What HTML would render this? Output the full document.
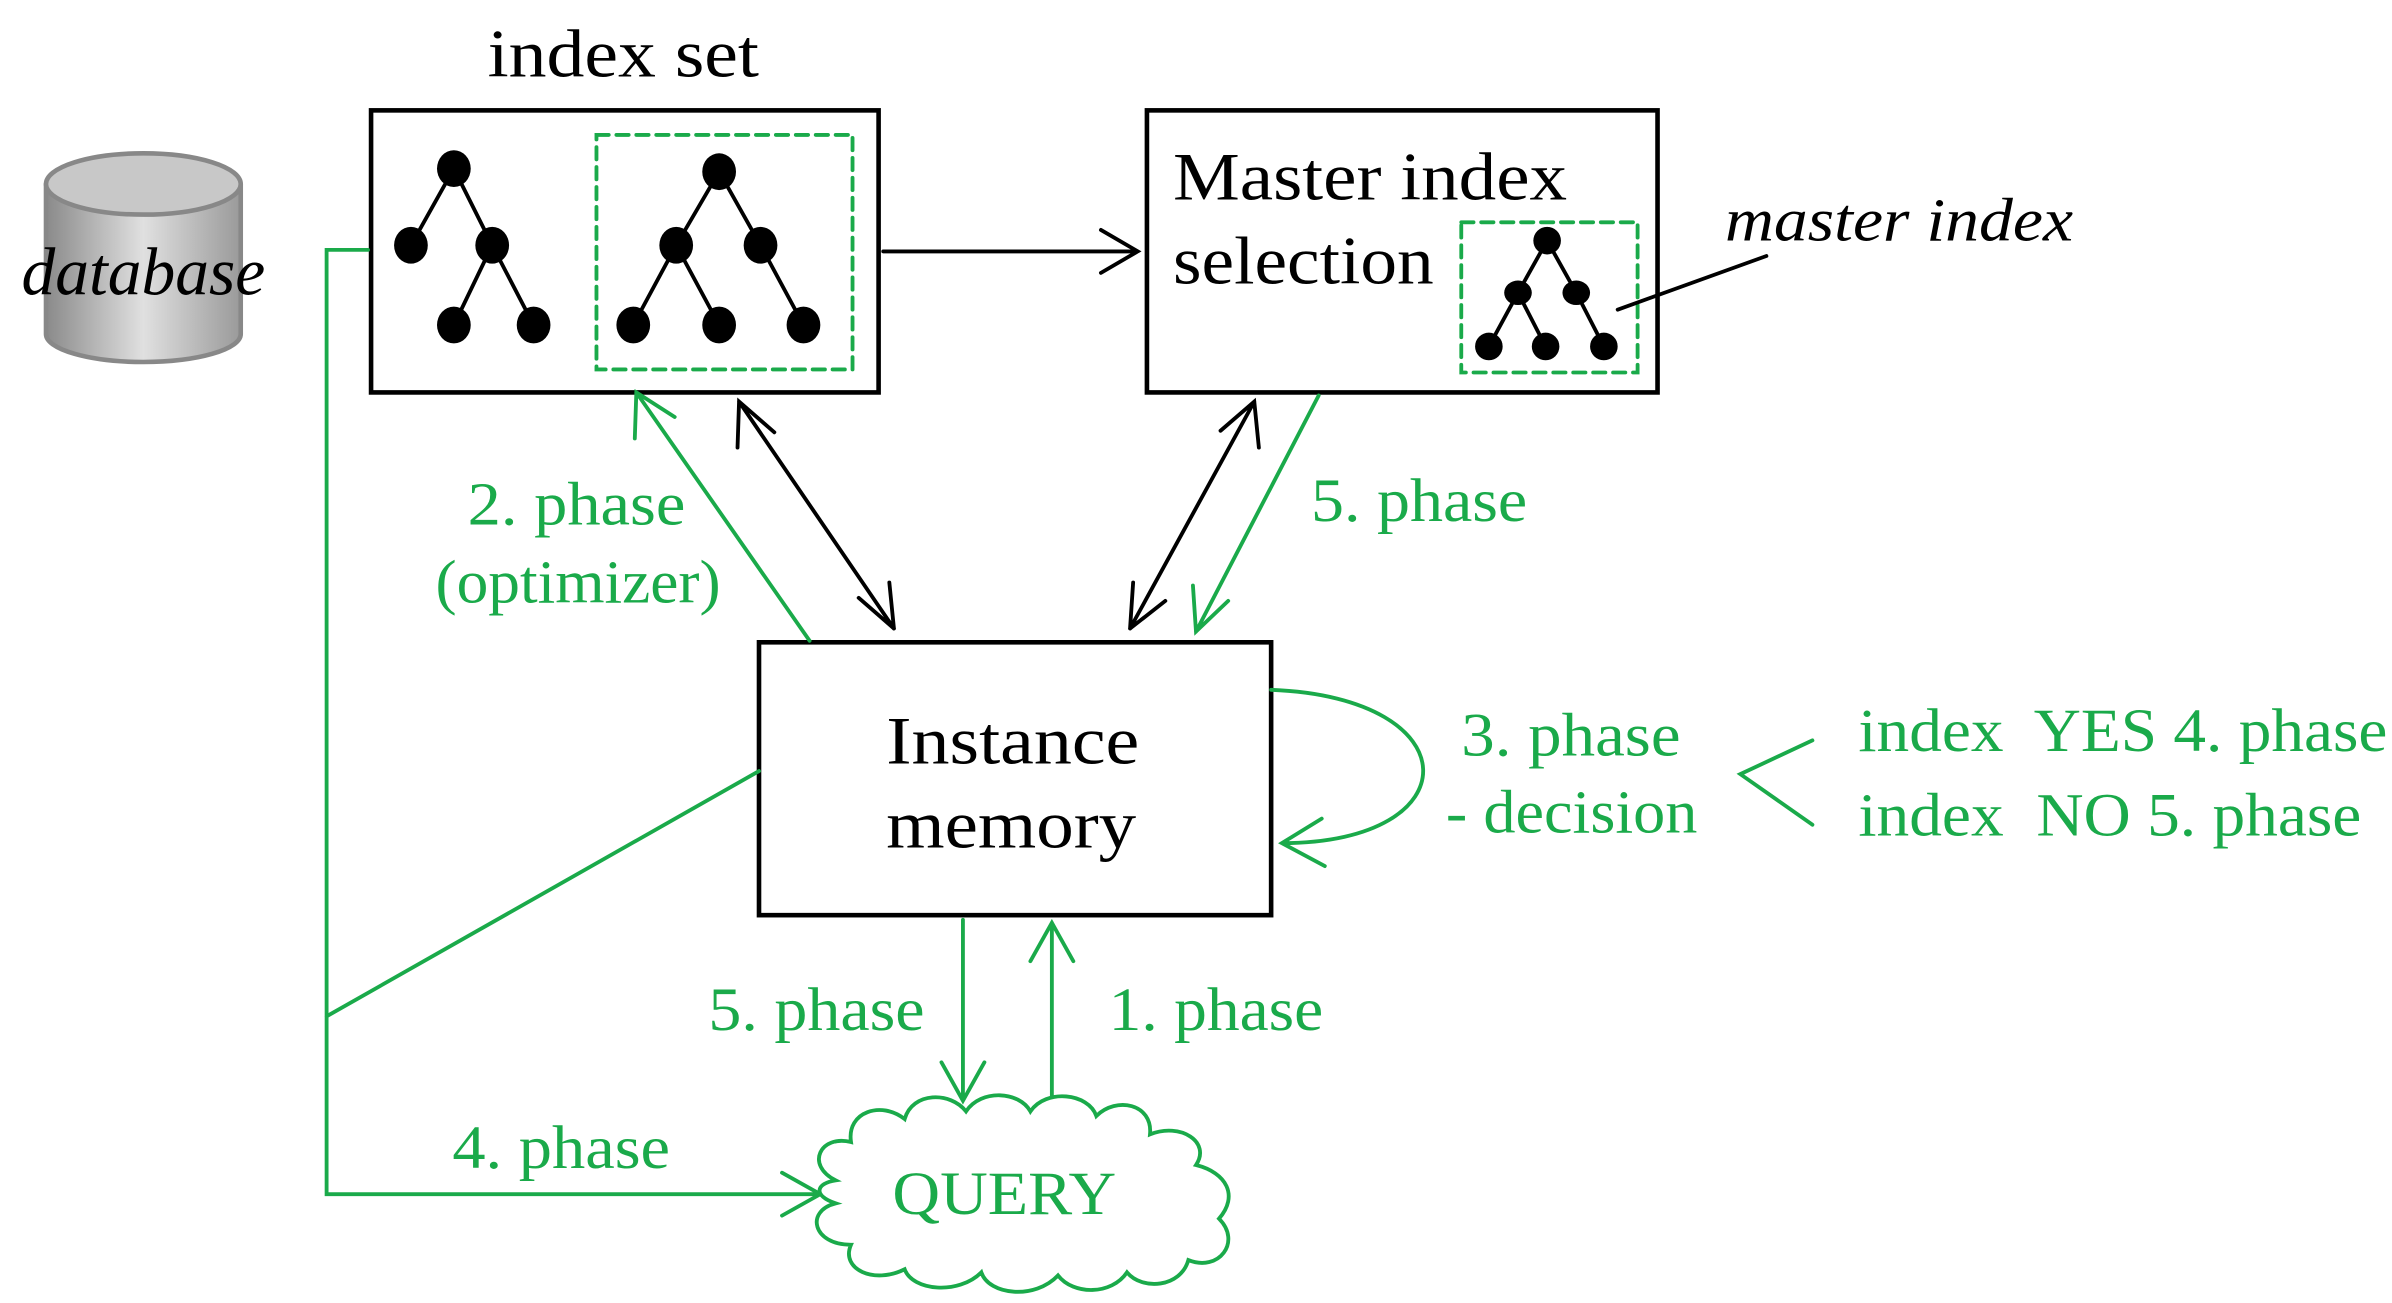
<!DOCTYPE html>
<html><head><meta charset="utf-8"><style>
html,body{margin:0;padding:0;background:#fff}
svg{display:block}
text{font-family:"Liberation Serif",serif}
</style></head><body>
<svg width="2392" height="1303" viewBox="0 0 1560 850" preserveAspectRatio="none" xmlns="http://www.w3.org/2000/svg">
<defs>
<linearGradient id="g" x1="0" x2="1"><stop offset="0" stop-color="#8a8a8a"/><stop offset="0.5" stop-color="#e0e0e0"/><stop offset="1" stop-color="#9a9a9a"/></linearGradient>
</defs>
<g fill="none" stroke-linecap="round">
<path d="M30,120 L30,218 A63,18 0 0 0 157,218 L157,120" fill="url(#g)" stroke="#888" stroke-width="3"/>
<ellipse cx="93.5" cy="120" rx="63.5" ry="20" fill="#c8c8c8" stroke="#888" stroke-width="3"/>
<rect x="242" y="72" width="331" height="184" stroke="#000" stroke-width="3" fill="#fff"/>
<rect x="748" y="72" width="333" height="184" stroke="#000" stroke-width="3" fill="#fff"/>
<rect x="495" y="419" width="334" height="178" stroke="#000" stroke-width="3" fill="#fff"/>
<rect x="389" y="88" width="167" height="153" stroke="#1aaa4a" stroke-width="2.5" stroke-dasharray="8,5"/>
<rect x="953" y="145" width="115" height="98" stroke="#1aaa4a" stroke-width="2.5" stroke-dasharray="8,5"/>
<g stroke="#000" stroke-width="2.5">
<path d="M296,110L268,160M296,110L321,160L296,212M321,160L348,212"/>
<path d="M469,112L441,160L413,212M441,160L469,212M469,112L496,160L524,212"/>
<path d="M1009,157L990,191L971,226M990,191L1008,226M1009,157L1028,191L1046,226"/>
<path d="M1152,167L1055,202"/>
</g>
<g fill="#000">
<ellipse cx="296" cy="110" rx="11" ry="12"/><ellipse cx="268" cy="160" rx="11" ry="12"/><ellipse cx="321" cy="160" rx="11" ry="12"/><ellipse cx="296" cy="212" rx="11" ry="12"/><ellipse cx="348" cy="212" rx="11" ry="12"/>
<ellipse cx="469" cy="112" rx="11" ry="12"/><ellipse cx="441" cy="160" rx="11" ry="12"/><ellipse cx="496" cy="160" rx="11" ry="12"/><ellipse cx="413" cy="212" rx="11" ry="12"/><ellipse cx="469" cy="212" rx="11" ry="12"/><ellipse cx="524" cy="212" rx="11" ry="12"/>
<ellipse cx="1009" cy="157" rx="9" ry="9"/><ellipse cx="990" cy="191" rx="9" ry="8"/><ellipse cx="1028" cy="191" rx="9" ry="8"/><ellipse cx="971" cy="226" rx="9" ry="9"/><ellipse cx="1008" cy="226" rx="9" ry="9"/><ellipse cx="1046" cy="226" rx="9" ry="9"/>
</g>
<g stroke="#000" stroke-width="2.5">
<path d="M576,164L742,164M718,150L742,164L718,178"/>
<path d="M482,262L583,410M481,292L482,262L505,282M583,410L580,380M583,410L560,390"/>
<path d="M818,262L737,410M796,281L818,262L821,292M737,410L739,380M737,410L760,392"/>
</g>
<g stroke="#1aaa4a" stroke-width="2.5">
<path d="M528,418L415,256M414,286L415,256L440,272"/>
<path d="M860,258L780,412M778,382L780,412L801,392"/>
<path d="M829,450C960,455 960,550 836,550M862,534L836,550L864,565"/>
<path d="M1182,483L1135,505L1182,538"/>
<path d="M495,503L213,663M240,163L213,163L213,779L535,779M510,765L535,779L510,793"/>
<path d="M628,600L628,718M614,693L628,718L642,693"/>
<path d="M686,718L686,602M672,627L686,602L700,627"/>
<path d="M545,770C525,760 535,740 555,745C552,725 575,718 590,730C595,712 620,712 630,725C640,710 665,712 672,725C682,710 710,713 715,728C728,715 752,720 750,740C770,732 790,745 780,760C800,765 808,780 795,795C810,810 795,830 775,822C770,840 745,842 735,830C725,845 700,845 690,832C675,848 645,845 640,830C625,845 595,842 590,828C570,838 548,828 555,812C530,812 525,790 545,785C530,780 532,772 545,770Z" fill="#fff"/>
</g>
</g>
<g font-size="44" lengthAdjust="spacingAndGlyphs">
<text x="318" y="50" fill="#000" textLength="177" lengthAdjust="spacingAndGlyphs">index set</text>
<text x="765" y="130" fill="#000" textLength="257" lengthAdjust="spacingAndGlyphs">Master index</text>
<text x="765" y="185" fill="#000" textLength="170" lengthAdjust="spacingAndGlyphs">selection</text>
<text x="14" y="192" fill="#000" font-style="italic" textLength="159" lengthAdjust="spacingAndGlyphs">database</text>
<text x="1125" y="157" fill="#000" font-style="italic" font-size="40" textLength="227" lengthAdjust="spacingAndGlyphs">master index</text>
<text x="578" y="498" fill="#000" textLength="165" lengthAdjust="spacingAndGlyphs">Instance</text>
<text x="578" y="553" fill="#000" textLength="163" lengthAdjust="spacingAndGlyphs">memory</text>
</g>
<g font-size="40" fill="#1aaa4a">
<text x="305" y="342" textLength="142" lengthAdjust="spacingAndGlyphs">2. phase</text>
<text x="284" y="393" textLength="186" lengthAdjust="spacingAndGlyphs">(optimizer)</text>
<text x="855" y="340" textLength="141" lengthAdjust="spacingAndGlyphs">5. phase</text>
<text x="953" y="493" textLength="143" lengthAdjust="spacingAndGlyphs">3. phase</text>
<text x="943" y="543" textLength="164" lengthAdjust="spacingAndGlyphs">- decision</text>
<text x="1212" y="490" textLength="345" lengthAdjust="spacingAndGlyphs" xml:space="preserve">index  YES 4. phase</text>
<text x="1212" y="545" textLength="328" lengthAdjust="spacingAndGlyphs" xml:space="preserve">index  NO 5. phase</text>
<text x="462" y="672" textLength="141" lengthAdjust="spacingAndGlyphs">5. phase</text>
<text x="723" y="672" textLength="140" lengthAdjust="spacingAndGlyphs">1. phase</text>
<text x="295" y="762" textLength="142" lengthAdjust="spacingAndGlyphs">4. phase</text>
<text x="582" y="792" textLength="146" lengthAdjust="spacingAndGlyphs">QUERY</text>
</g>
</svg>
</body></html>
